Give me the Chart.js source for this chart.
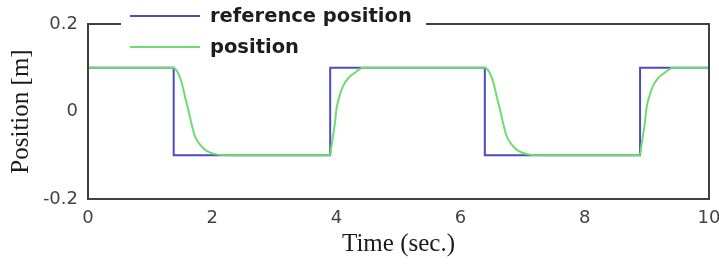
<!DOCTYPE html>
<html>
<head>
<meta charset="utf-8">
<script src="https://cdn.jsdelivr.net/npm/chart.js@4/dist/chart.umd.min.js"></script>
<style>
  html, body { margin: 0; padding: 0; background: #fff; }
  #wrap { width: 719px; height: 266px; }
</style>
</head>
<body>
<div id="wrap"><canvas id="posChart" width="719" height="266"></canvas></div>
<script>
  // -------------------------
  // Data
  // -------------------------
  const seriesLabels = ["reference position", "position"];

  // reference: square wave, steps at ~1.38, 3.9, 6.39, 8.89 s
  const refTime = [0, 1.38, 1.38, 3.9, 3.9, 6.39, 6.39, 8.89, 8.89, 10];
  const refPos = [0.1, 0.1, -0.1, -0.1, 0.1, 0.1, -0.1, -0.1, 0.1, 0.1];

  // measured position
  const posTime = [
    0, 1.37, 1.45, 1.51, 1.56, 1.62, 1.67, 1.72, 1.8, 1.91, 2.07, 2.3,
    3.9, 3.92, 3.95, 3.98, 4.0, 4.05, 4.11, 4.19, 4.3, 4.43,
    6.39, 6.47, 6.53, 6.58, 6.64, 6.69, 6.74, 6.82, 6.93, 7.09, 7.3,
    8.89, 8.91, 8.94, 8.97, 8.99, 9.04, 9.1, 9.18, 9.29, 9.42, 10
  ];
  const posVal = [
    0.1, 0.1, 0.088, 0.065, 0.035, 0.001, -0.03, -0.056, -0.075, -0.09, -0.098, -0.1,
    -0.1, -0.079, -0.052, -0.022, 0.005, 0.035, 0.059, 0.076, 0.089, 0.1,
    0.1, 0.088, 0.065, 0.035, 0.001, -0.03, -0.056, -0.075, -0.09, -0.098, -0.1,
    -0.1, -0.079, -0.052, -0.022, 0.005, 0.035, 0.059, 0.076, 0.089, 0.1, 0.1
  ];

  const xTicks = [0, 2, 4, 6, 8, 10];
  const yTicks = [-0.2, 0, 0.2];

  const xTitle = "Time (sec.)";
  const yTitle = "Position [m]";

  const refColor = "#4b4bc4";
  const posColor = "#6fdc6f";
  const frameColor = "#404040";

  // -------------------------
  // Helpers
  // -------------------------
  function toPoints(xs, ys) {
    return xs.map((x, i) => ({ x: x, y: ys[i] }));
  }

  // frame round the plot area (top edge is broken by the legend below)
  const framePlugin = {
    id: "frame",
    afterDatasetsDraw(chart) {
      const a = chart.chartArea;
      const ctx = chart.ctx;
      ctx.save();
      ctx.strokeStyle = frameColor;
      ctx.lineWidth = 2;
      ctx.strokeRect(a.left, a.top, a.right - a.left, a.bottom - a.top);
      ctx.restore();
    },
  };

  // legend sitting on the top edge, like the matlab box
  const legendPlugin = {
    id: "topLegend",
    afterDraw(chart) {
      const ctx = chart.ctx;
      const ds = chart.data.datasets;
      ctx.save();
      ctx.fillStyle = "#fff";
      ctx.fillRect(121, 0, 305, 60);
      ctx.font = "bold 19.5px 'DejaVu Sans'";
      ctx.textBaseline = "middle";
      ctx.textAlign = "left";
      const rows = [16, 47];
      ds.forEach((d, i) => {
        const y = rows[i];
        ctx.strokeStyle = d.borderColor;
        ctx.lineWidth = 2;
        ctx.beginPath();
        ctx.moveTo(130, y);
        ctx.lineTo(200, y);
        ctx.stroke();
        ctx.fillStyle = "#1e1e1e";
        ctx.fillText(d.label, 210, y + 1);
      });
      ctx.restore();
    },
  };

  const tickFont = { family: "'DejaVu Sans'", size: 18 };
  const titleFont = { family: "'Liberation Serif'", size: 25 };

  new Chart(document.getElementById("posChart").getContext("2d"), {
    type: "line",
    data: {
      datasets: [
        {
          label: seriesLabels[0],
          data: toPoints(refTime, refPos),
          borderColor: refColor,
          borderWidth: 2,
          pointRadius: 0,
          tension: 0,
          fill: false,
          order: 1,
        },
        {
          label: seriesLabels[1],
          data: toPoints(posTime, posVal),
          borderColor: posColor,
          borderWidth: 2,
          pointRadius: 0,
          cubicInterpolationMode: "monotone",
          fill: false,
          order: 0,
        },
      ],
    },
    options: {
      responsive: false,
      animation: false,
      layout: { padding: { left: 0, right: 10, top: 24, bottom: 0 } },
      plugins: { legend: { display: false }, tooltip: { enabled: false } },
      scales: {
        x: {
          type: "linear",
          min: 0,
          max: 10,
          afterBuildTicks(s) { s.ticks = xTicks.map((v) => ({ value: v })); },
          afterFit(s) { s.height = 67; s.paddingLeft = 0; s.paddingRight = 0; },
          grid: { display: false, drawTicks: false },
          border: { display: false },
          ticks: { font: tickFont, color: "#444", padding: 9, maxRotation: 0 },
          title: { display: true, text: xTitle, font: titleFont, color: "#1a1a1a", padding: { top: 0, bottom: 7 } },
        },
        y: {
          type: "linear",
          min: -0.2,
          max: 0.2,
          afterBuildTicks(s) { s.ticks = yTicks.map((v) => ({ value: v })); },
          afterFit(s) { s.width = 88; s.paddingTop = 0; s.paddingBottom = 0; },
          grid: { display: false, drawTicks: false },
          border: { display: false },
          ticks: { font: tickFont, color: "#444", padding: 10 },
          title: { display: true, text: yTitle, font: titleFont, color: "#1a1a1a", padding: { top: 6, bottom: 0 } },
        },
      },
    },
    plugins: [framePlugin, legendPlugin],
  });
</script>
</body>
</html>
